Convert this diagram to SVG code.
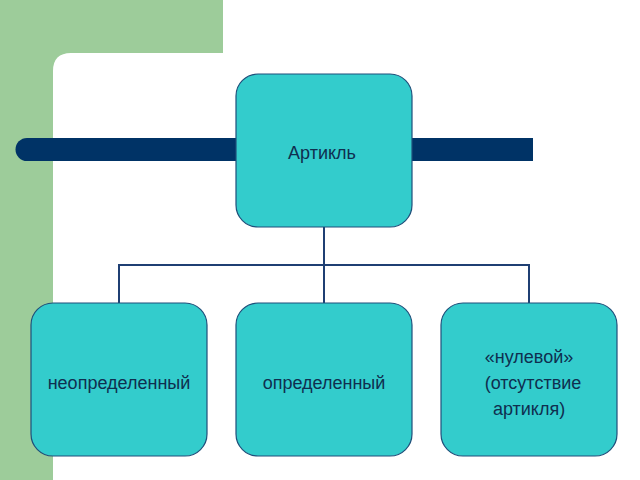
<svg xmlns="http://www.w3.org/2000/svg" width="640" height="480" viewBox="0 0 640 480">
<style>
.n{fill:#33CCCC;stroke:#1F4F7A;stroke-width:1.2}
.t{font-family:"Liberation Sans",Arial,sans-serif;font-size:18px;fill:#0F2F4F;text-anchor:middle}
.c{fill:none;stroke:#1F3F73;stroke-width:2}
</style>
<rect width="640" height="480" fill="#FFFFFF"/>
<path d="M0 0H223V53H71Q53 53 53 71V480H0Z" fill="#9DCC9A"/>
<path d="M27 138H533V161H27A11.5 11.5 0 0 1 27 138Z" fill="#003366"/>
<g id="connectors">
<path class="c" d="M324 227V303M119 303V265H529V303"/>
</g>
<g id="root"><rect class="n" x="236" y="74" width="176" height="153" rx="22"/><text class="t" x="322" y="159">Артикль</text></g>
<g id="n1"><rect class="n" x="31" y="303" width="176" height="153" rx="22"/><text class="t" x="119" y="389">неопределенный</text></g>
<g id="n2"><rect class="n" x="236" y="303" width="176" height="153" rx="22"/><text class="t" x="324" y="389">определенный</text></g>
<g id="n3"><rect class="n" x="441" y="303" width="176" height="153" rx="22"/><text class="t" x="529" y="363">«нулевой»</text><text class="t" x="533" y="389">(отсутствие</text><text class="t" x="529" y="415">артикля)</text></g>
</svg>
